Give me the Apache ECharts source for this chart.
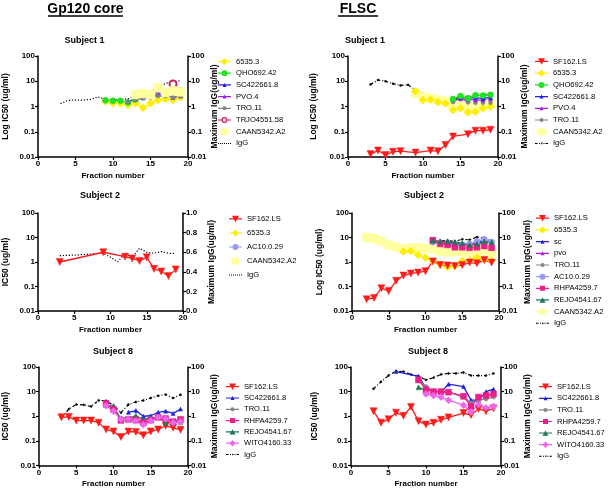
<!DOCTYPE html>
<html><head><meta charset="utf-8">
<script src="https://cdn.jsdelivr.net/npm/echarts@6/dist/echarts.min.js"></script>
<style>html,body{margin:0;padding:0;background:#fff}#c{width:608px;height:489px}</style>
</head><body><div id="c"></div>
<script>
const _ = null;
// Fraction numbers (x values), shared by all panels
const FR = [2,3,4,5,6,7,8,9,10,11,12,13,14,15,16,17,18,19];

// Panel 1: Gp120 core, Subject 1
const p1_6535 = [_,_,_,_,_,_,_,1.6,1.35,1.35,1.15,1.35,0.9,1.35,1.8,2.0,1.8,2.3];
const p1_qho  = [_,_,_,_,_,_,_,1.75,1.7,1.7,1.45,1.9,_,_,_,_,_,_];
const p1_sc   = [_,_,_,_,_,_,_,_,_,_,1.6,2.0,2.2,2.4,3.0,2.9,2.3,2.6];
const p1_pvo  = [_,_,_,_,_,_,_,_,_,_,_,2.4,2.6,3.0,3.9,3.4,4.2,3.5];
const p1_tro  = [_,_,_,_,_,_,_,_,_,_,1.5,1.8,2.1,2.3,2.6,2.6,2.3,2.5];
const p1_trjo = [_,_,_,_,_,_,_,_,_,_,_,_,_,_,_,3.6,7.8,3.8];
const p1_caan = [_,_,_,_,_,_,_,_,_,_,_,3.0,3.3,3.0,5.5,3.6,4.2,3.8];
const p1_igg  = [_,1.3,1.75,1.8,1.8,1.9,2.4,1.9,1.8,1.9,2.0,2.8,3.3,4.2,5.5,8.3,9.4,10.6];

// Panel 2: FLSC, Subject 1
const p2_sf   = [_,0.013,0.018,0.012,0.016,0.017,_,0.015,_,0.018,0.017,0.03,0.065,_,0.08,0.11,0.11,0.12];
const p2_6535 = [_,_,_,_,_,_,_,4.0,1.8,1.9,1.5,1.3,0.72,0.85,0.58,0.62,0.85,1.0];
const p2_qho  = [_,_,_,_,_,_,_,_,_,_,_,_,2.0,2.6,2.1,2.8,2.7,2.9];
const p2_sc   = [_,_,_,_,_,_,_,_,_,_,_,_,1.9,2.3,2.2,2.2,2.1,2.3];
const p2_pvo  = [_,_,_,_,_,_,_,_,_,_,_,_,1.8,2.0,1.9,1.8,1.8,2.0];
const p2_tro  = [_,_,_,_,_,_,_,_,_,_,_,_,1.5,2.2,1.45,1.4,1.4,1.4];
const p2_caan = [_,_,_,_,_,_,_,3.3,2.4,2.1,1.8,1.6,1.05,1.1,0.95,1.0,1.05,1.3];
const p2_igg  = [_,7.5,11.2,10,8,6.8,7.2,4.5,3.2,2.8,2.2,1.7,2.1,2.7,2.4,3.0,3.0,3.0];

// Panel 3: Gp120 core, Subject 2 (IgG on linear right axis)
const p3_sf   = [_,1.0,_,_,_,_,_,2.5,_,_,1.65,1.4,1.1,1.55,0.53,0.41,0.27,0.5];
const p3_igg  = [_,0.565,0.567,0.57,0.575,0.58,0.585,0.589,0.548,0.503,0.589,0.548,0.64,0.599,0.589,0.606,0.589,0.589];

// Panel 4: FLSC, Subject 2
const p4_sf   = [0.030,0.034,0.085,0.065,0.17,0.28,0.34,0.37,0.42,1.05,0.75,0.72,0.68,0.75,0.95,0.88,1.2,0.95];
const p4_6535 = [_,_,_,_,_,2.7,2.8,1.95,1.5,1.1,0.8,0.62,0.7,1.1,1.17,1.5,1.3,1.15];
const p4_sc   = [_,_,_,_,_,_,_,_,_,7.5,6.5,6.8,6.0,5.5,5.0,6.0,8.0,6.5];
const p4_pvo  = [_,_,_,_,_,_,_,_,_,7,6,6,5.5,5,5,6,7,6];
const p4_tro  = [_,_,_,_,_,_,_,_,_,6,6,6,5.5,5.5,5,5,6,6];
const p4_ac10 = [_,_,_,_,_,_,_,_,_,6.5,6,5.5,5,5,5.5,7,8.5,6.5];
const p4_rhpa = [_,_,_,_,_,_,_,_,_,7.8,5.5,5.0,4.0,4.0,3.8,4.0,4.5,3.8];
const p4_rejo = [_,_,_,_,_,_,_,_,_,7.5,7,7,6.5,6,5,5.5,7,6.5];
const p4_caan = [10,9,7,5,4,3.5,3.8,3.8,3.6,3.3,2.8,2.5,2.8,2.6,2.5,2.5,3.0,2.5];
const p4_igg  = [10.5,9.5,7,5,3.9,3.5,4.0,3.9,3.7,7,7.5,7.5,7,8.5,8,10.5,9.5,7];

// Panel 5: Gp120 core, Subject 8
const p5_sf   = [_,0.91,0.94,0.67,0.67,0.67,0.55,0.29,0.24,0.145,0.24,0.23,0.17,0.24,0.29,0.41,0.34,0.28];
const p5_sc   = [_,_,_,_,_,_,_,_,_,_,1.45,1.7,1.0,1.05,1.45,1.6,1.3,1.95];
const p5_tro  = [_,_,_,_,_,_,_,2.9,2.0,0.85,0.8,0.75,0.65,0.8,0.9,0.9,0.65,0.65];
const p5_rhpa = [_,_,_,_,_,_,_,3.3,1.9,0.68,0.75,0.7,0.55,0.7,0.9,0.8,0.6,0.75];
const p5_rejo = [_,_,_,_,_,_,_,2.8,2.6,0.7,0.8,1.05,0.75,0.85,0.95,0.55,0.55,0.6];
const p5_wito = [_,_,_,_,_,_,_,2.7,1.6,0.75,0.75,0.65,0.45,0.65,0.9,0.8,0.55,0.6];
const p5_igg  = [_,0.85,1.95,3.0,2.9,2.5,4.4,4.3,2.7,1.4,3.0,3.8,4.4,5.5,6.8,7.6,5.5,7.5];

// Panel 6: FLSC, Subject 8
const p6_sf   = [_,1.6,0.55,0.75,1.4,1.05,2.4,0.63,0.46,0.54,0.72,0.9,_,1.35,1.12,2.0,1.6,2.1];
const p6_sc   = [_,_,_,_,65,_,_,42,14,11,9.5,20,_,16,4.5,4.5,10,12.5];
const p6_tro  = [_,_,_,_,_,_,_,30,16,10,9.5,9.5,_,6,3.5,4.5,5,6];
const p6_rhpa = [_,_,_,_,_,_,_,30,12,10,10,9.5,_,6.5,2.5,6,7,8];
const p6_rejo = [_,_,_,_,_,_,_,15,11,_,_,_,_,_,_,_,_,_];
const p6_wito = [_,_,_,_,_,_,_,_,8,7,6,4.5,_,2.8,1.5,3,2.2,2.5];
const p6_igg  = [_,13,25,45,68,65,50,42,30,37,50,55,55,60,45,45,45,55];

// Tick labels
const X_TICKS = [0,5,10,15,20];
const LOG_TICKS = ['0.01','0.1','1','10','100'];
const LIN_TICKS = ['0.0','0.2','0.4','0.6','0.8','1.0'];

const FONT = "'Liberation Sans',Arial,sans-serif";

const STY = {
  'SF162.LS':    {c:'#ff1a1a', s:'triangle', r:180, z:7},
  '6535.3':      {c:'#ffee00', s:'diamond', z:8},
  'QHO692.42':   {c:'#22e022', s:'circle', z:6},
  'SC422661.8':  {c:'#1f1fe0', s:'triangle', z:4},
  'sc':          {c:'#1f1fe0', s:'triangle', z:4},
  'PVO.4':       {c:'#a020e8', s:'triangle', z:4},
  'pvo':         {c:'#a020e8', s:'triangle', z:4},
  'TRO.11':      {c:'#858585', s:'circle', z:4},
  'TRJO4551.58': {c:'#c8205c', s:'emptyCircle', z:7},
  'CAAN5342.A2': {c:'#ffffa0', s:'roundRect', z:9},
  'AC10.0.29':   {c:'#9a9af5', s:'circle', z:6},
  'RHPA4259.7':  {c:'#e8208a', s:'rect', z:6},
  'REJO4541.67': {c:'#1f7850', s:'triangle', z:5},
  'WITO4160.33': {c:'#ee66ee', s:'diamond', z:7},
  'IgG':         {c:'#000000', s:'circle', z:2}
};

// legend icon glyphs (13 x 8 box): line + marker, all drawn with the same winding
const LINE = 'M0,3.4H13V4.6H0Z ';
const CIRC = (cx, r) => 'M' + (cx - r) + ',4a' + r + ',' + r + ' 0 1,1 ' + (2 * r) + ',0a' + r + ',' + r + ' 0 1,1 ' + (-2 * r) + ',0Z';
const ICON = {
  'SF162.LS':    LINE + 'M3,0.8H10L6.5,7.4Z',
  '6535.3':      LINE + 'M6.5,0.4L10,4L6.5,7.6L3,4Z',
  'QHO692.42':   LINE + CIRC(6.5, 3),
  'SC422661.8':  LINE + 'M4.5,6L6.5,2L8.5,6Z',
  'sc':          LINE + 'M4.5,6L6.5,2L8.5,6Z',
  'PVO.4':       LINE + 'M4.5,6L6.5,2L8.5,6Z',
  'pvo':         LINE + 'M4.5,6L6.5,2L8.5,6Z',
  'TRO.11':      LINE + CIRC(6.5, 2),
  'TRJO4551.58': 'M0,3.4H3.5V4.6H0Z M9.5,3.4H13V4.6H9.5Z ' + CIRC(6.5, 3) + ' M4.8,4a1.7,1.7 0 1,0 3.4,0a1.7,1.7 0 1,0 -3.4,0Z',
  'CAAN5342.A2': LINE + 'M3,0.5H10V7.5H3Z',
  'AC10.0.29':   LINE + CIRC(6.5, 3),
  'RHPA4259.7':  LINE + 'M4,1.5H9V6.5H4Z',
  'REJO4541.67': LINE + 'M3.5,6.8L6.5,1.4L9.5,6.8Z',
  'WITO4160.33': LINE + 'M6.5,0.8L9.7,4L6.5,7.2L3.3,4Z',
  'IgG':         'M0,3.5H2.6V4.5H0Z M4,3.5H5V4.5H4Z M6.2,3.2H7.4V4.8H6.2Z M8.5,3.5H9.5V4.5H8.5Z M10.6,3.5H13V4.5H10.6Z',
  'IgGdot':      'M0,3.5H1V4.5H0Z M2,3.5H3V4.5H2Z M4,3.5H5V4.5H4Z M6,3.5H7V4.5H6Z M8,3.5H9V4.5H8Z M10,3.5H11V4.5H10Z M12,3.5H13V4.5H12Z'
};

function ser(name, vals, g, yi, dotted) {
  const st = STY[name];
  const data = FR.map((f, i) => vals[i] == null ? null : [f, vals[i]]).filter(d => d);
  const isIgg = name === 'IgG';
  return {
    type: 'line', name: name, xAxisIndex: g, yAxisIndex: yi, data: data,
    symbol: (isIgg && dotted) ? 'none' : st.s, symbolSize: st.z, symbolRotate: st.r || 0,
    showSymbol: true, animation: false,
    lineStyle: {color: st.c, width: isIgg ? 1.2 : 1.3, type: isIgg ? (dotted ? [1.2,1.8] : [3,2,1,2]) : 'solid'},
    itemStyle: {color: st.c, borderColor: st.c, borderWidth: st.s === 'emptyCircle' ? 1.8 : 0.5},
    z: isIgg ? 1 : 2
  };
}

const GRIDS = [
  {left:36, top:56, width:152, height:101},
  {left:348, top:56, width:150, height:101},
  {left:36, top:213, width:147, height:98},
  {left:352, top:213, width:147, height:98},
  {left:36, top:367, width:152, height:100},
  {left:351, top:367, width:150, height:100}
];
const LNAME = ['Log IC50 (ug/ml)','Log IC50 (ug/ml)','IC50 (ug/ml)','Log IC50 (ug/ml)','IC50 (ug/ml)','IC50 (ug/ml)'];
const LGAP = [28,30,28,28,29,32];
const RGAP = [19,22,24,24,19,16];

const axisLine = {show:true, onZero:false, lineStyle:{color:'#000', width:1.5}};
const axisTick = {show:true, length:3, lineStyle:{color:'#000', width:1.2}};
const lbl = {color:'#000', fontSize:8, fontWeight:'bold', fontFamily:FONT};
const nm = {color:'#000', fontSize:8.5, fontWeight:'bold', fontFamily:FONT};
const nmx = {color:'#000', fontSize:8, fontWeight:'bold', fontFamily:FONT};

const xAxis = [], yAxis = [];
GRIDS.forEach((g, i) => {
  xAxis.push({type:'value', gridIndex:i, min:0, max:20, interval:5, axisLine, axisTick,
    axisLabel:{...lbl, margin:3, formatter: v => X_TICKS.includes(v) ? String(v) : ''},
    splitLine:{show:false}, name:'Fraction number', nameLocation:'middle', nameGap:14.5, nameTextStyle:nmx});
  yAxis.push({type:'log', logBase:10, gridIndex:i, position:'left', min:0.01, max:100, axisLine, axisTick,
    axisLabel:{...lbl, margin:3, formatter: v => LOG_TICKS[Math.round(Math.log10(v)) + 2]},
    splitLine:{show:false}, minorTick:{show:false},
    name:LNAME[i], nameLocation:'middle', nameGap:LGAP[i], nameTextStyle:nm});
  if (i === 2) {
    yAxis.push({type:'value', gridIndex:i, position:'right', min:0, max:1, interval:0.2, axisLine, axisTick,
      axisLabel:{...lbl, margin:3, formatter: v => LIN_TICKS[Math.round(v * 5)]},
      splitLine:{show:false}, name:'Maximum IgG(ug/ml)', nameLocation:'middle', nameGap:RGAP[i], nameTextStyle:nm});
  } else {
    yAxis.push({type:'log', logBase:10, gridIndex:i, position:'right', min:0.01, max:100, axisLine, axisTick,
      axisLabel:{...lbl, margin:3, formatter: v => LOG_TICKS[Math.round(Math.log10(v)) + 2]},
      splitLine:{show:false}, minorTick:{show:false},
      name:'Maximum IgG(ug/ml)', nameLocation:'middle', nameGap:RGAP[i], nameTextStyle:nm});
  }
});

const series = [
  ser('IgG', p1_igg, 0, 1, true),
  ser('6535.3', p1_6535, 0, 0), ser('QHO692.42', p1_qho, 0, 0), ser('SC422661.8', p1_sc, 0, 0),
  ser('PVO.4', p1_pvo, 0, 0), ser('TRO.11', p1_tro, 0, 0), ser('TRJO4551.58', p1_trjo, 0, 0),
  ser('CAAN5342.A2', p1_caan, 0, 0),

  ser('IgG', p2_igg, 1, 3, false),
  ser('SF162.LS', p2_sf, 1, 2), ser('CAAN5342.A2', p2_caan, 1, 2), ser('6535.3', p2_6535, 1, 2),
  ser('TRO.11', p2_tro, 1, 2), ser('PVO.4', p2_pvo, 1, 2), ser('SC422661.8', p2_sc, 1, 2),
  ser('QHO692.42', p2_qho, 1, 2),

  ser('IgG', p3_igg, 2, 5, true),
  ser('SF162.LS', p3_sf, 2, 4),

  ser('IgG', p4_igg, 3, 7, false),
  ser('CAAN5342.A2', p4_caan, 3, 6), ser('6535.3', p4_6535, 3, 6), ser('SF162.LS', p4_sf, 3, 6),
  ser('TRO.11', p4_tro, 3, 6), ser('pvo', p4_pvo, 3, 6), ser('sc', p4_sc, 3, 6),
  ser('AC10.0.29', p4_ac10, 3, 6), ser('RHPA4259.7', p4_rhpa, 3, 6), ser('REJO4541.67', p4_rejo, 3, 6),

  ser('IgG', p5_igg, 4, 9, false),
  ser('SF162.LS', p5_sf, 4, 8), ser('SC422661.8', p5_sc, 4, 8), ser('TRO.11', p5_tro, 4, 8),
  ser('REJO4541.67', p5_rejo, 4, 8), ser('RHPA4259.7', p5_rhpa, 4, 8), ser('WITO4160.33', p5_wito, 4, 8),

  ser('IgG', p6_igg, 5, 11, false),
  ser('SF162.LS', p6_sf, 5, 10), ser('SC422661.8', p6_sc, 5, 10), ser('TRO.11', p6_tro, 5, 10),
  ser('REJO4541.67', p6_rejo, 5, 10), ser('RHPA4259.7', p6_rhpa, 5, 10), ser('WITO4160.33', p6_wito, 5, 10)
];

const LEG = [
  {names:['6535.3','QHO692.42','SC422661.8','PVO.4','TRO.11','TRJO4551.58','CAAN5342.A2','IgG'], left:218, top:57.5, gap:3.7, dotted:true},
  {names:['SF162.LS','6535.3','QHO692.42','SC422661.8','PVO.4','TRO.11','CAAN5342.A2','IgG'], left:535, top:57.5, gap:3.7},
  {names:['SF162.LS','6535.3','AC10.0.29','CAAN5342.A2','IgG'], left:229, top:215, gap:6, dotted:true},
  {names:['SF162.LS','6535.3','sc','pvo','TRO.11','AC10.0.29','RHPA4259.7','REJO4541.67','CAAN5342.A2','IgG'], left:536, top:214.3, gap:3.67},
  {names:['SF162.LS','SC422661.8','TRO.11','RHPA4259.7','REJO4541.67','WITO4160.33','IgG'], left:226, top:382.7, gap:3.3},
  {names:['SF162.LS','SC422661.8','TRO.11','RHPA4259.7','REJO4541.67','WITO4160.33','IgG'], left:539, top:382.7, gap:3.6}
];
const legend = LEG.map(l => ({
  data: l.names.map(n => ({
    name: n,
    icon: 'path://' + ICON[(n === 'IgG' && l.dotted) ? 'IgGdot' : n],
    itemStyle: {color: STY[n].c, borderWidth: 0}
  })),
  left:l.left, top:l.top, orient:'vertical', padding:0, itemGap:l.gap,
  itemWidth:13, itemHeight:8, selectedMode:false, symbolKeepAspect:true,
  textStyle:{color:'#000', fontSize:7.6, lineHeight:8, fontFamily:FONT}
}));

const T = (text, x, y, size) => ({type:'text', x:x, y:y, silent:true,
  style:{text:text, fill:'#000', font:'bold ' + size + 'px ' + FONT, align:'center', verticalAlign:'middle'}});
const graphic = [
  T('Gp120 core', 85.5, 9, 14), T('FLSC', 358, 9, 14),
  {type:'line', silent:true, shape:{x1:48, y1:16, x2:123, y2:16}, style:{stroke:'#000', lineWidth:1.4}},
  {type:'line', silent:true, shape:{x1:338, y1:16, x2:378, y2:16}, style:{stroke:'#000', lineWidth:1.4}},
  T('Subject 1', 84.5, 41, 9), T('Subject 1', 365, 41, 9),
  T('Subject 2', 100, 196, 9), T('Subject 2', 424, 196, 9),
  T('Subject 8', 113, 352, 9), T('Subject 8', 428, 352, 9)
];

const chart = echarts.init(document.getElementById('c'), null, {renderer:'canvas'});
chart.setOption({
  backgroundColor:'#fff', animation:false,
  grid: GRIDS.map(g => ({...g, containLabel:false})),
  xAxis, yAxis, series, legend, graphic
});
</script></body></html>
